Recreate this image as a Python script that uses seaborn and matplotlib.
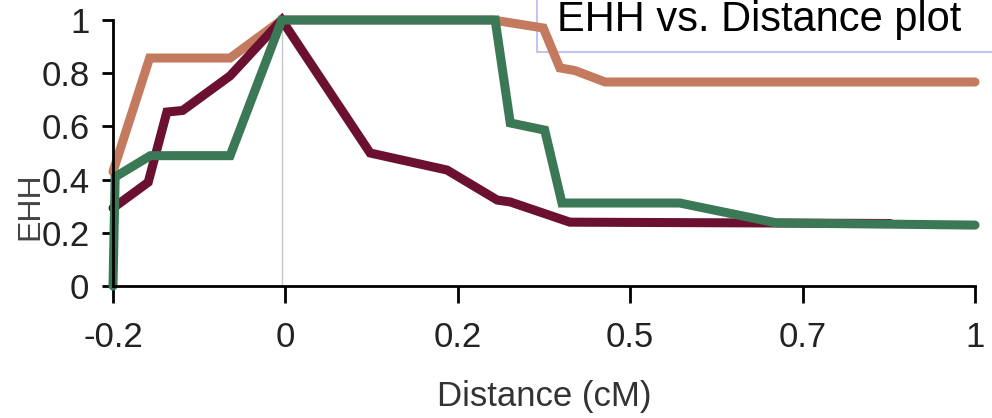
import numpy as np
import pandas as pd
import matplotlib
matplotlib.use('Agg')
import matplotlib.pyplot as plt
from matplotlib.patches import Rectangle
import seaborn as sns

# Valores (distância em cM, EHH)
dist_laranja = [-0.2, -0.149, -0.037, 0.035, 0.329, 0.399, 0.422, 0.443, 0.485, 1.0]
ehh_laranja = [0.43, 0.857, 0.857, 1.0, 1.0, 0.97, 0.82, 0.81, 0.767, 0.767]

dist_vinho = [-0.2, -0.151, -0.125, -0.103, -0.037, 0.035, 0.158, 0.265, 0.335, 0.353, 0.436, 0.882]
ehh_vinho = [0.293, 0.39, 0.654, 0.66, 0.79, 1.0, 0.5, 0.436, 0.323, 0.316, 0.24, 0.235]

dist_verde = [-0.2, -0.197, -0.148, -0.037, 0.035, 0.332, 0.353, 0.401, 0.425, 0.589, 0.724, 1.0]
ehh_verde = [0.0, 0.41, 0.49, 0.49, 1.0, 1.0, 0.613, 0.586, 0.312, 0.312, 0.237, 0.229]

posicao_core = 0.035
ticks_x = np.linspace(-0.2, 1.0, 6)
rotulos_x = ['-0.2', '0', '0.2', '0.5', '0.7', '1']
ticks_y = [0, 0.2, 0.4, 0.6, 0.8, 1]
rotulos_y = ['0', '0.2', '0.4', '0.6', '0.8', '1']

series = [
    (dist_laranja, ehh_laranja, '#c47a5e'),
    (dist_vinho, ehh_vinho, '#6b1030'),
    (dist_verde, ehh_verde, '#3b7856'),
]

sns.set_style('white')
plt.rcParams['font.family'] = ['Liberation Sans', 'DejaVu Sans']

fig = plt.figure(figsize=(9.92, 4.18), dpi=100)
ax = fig.add_axes([113 / 992, 1 - 286 / 418, 862 / 992, 266 / 418])
ax.set_facecolor('none')

ax.axvline(posicao_core, color='#c8c8c8', lw=1, zorder=1)

for dist, ehh, cor in series:
    df = pd.DataFrame({'dist': dist, 'ehh': ehh})
    sns.lineplot(ax=ax, x='dist', y='ehh', data=df, color=cor, lw=6.5, sort=False,
                 estimator=None, clip_on=False, solid_joinstyle='miter', zorder=3)

ax.set_xlim(-0.2, 1.0)
ax.set_ylim(0, 1)
ax.set_xticks(ticks_x)
ax.set_xticklabels(rotulos_x)
ax.set_yticks(ticks_y)
ax.set_yticklabels(rotulos_y)
ax.tick_params(axis='x', length=12, width=2, color='black', pad=13, labelsize=25, labelcolor='#222222')
ax.tick_params(axis='y', length=8, width=2, color='black', pad=9, labelsize=25, labelcolor='#222222')
ax.xaxis.set_ticks_position('bottom')
ax.yaxis.set_ticks_position('left')
for lado in ['top', 'right']:
    ax.spines[lado].set_visible(False)
for lado in ['left', 'bottom']:
    ax.spines[lado].set_linewidth(2)
    ax.spines[lado].set_color('black')
    ax.spines[lado].set_zorder(4)

ax.set_xlabel('Distance (cM)', fontsize=25, color='#333333', va='center')
ax.xaxis.set_label_coords(0.5, -0.415)
ax.set_ylabel('EHH', fontsize=23, color='#444444')
ax.yaxis.set_label_coords(-0.078, 0.3)

# Caixa do título (atrás das linhas, texto por cima)
fig.patches.append(Rectangle((537 / 992, 1 - 52 / 418), 0.5, 0.2, transform=fig.transFigure,
                             facecolor='white', edgecolor='#c4c4f2', lw=1.5, zorder=-1))
fig.text(557 / 992, 1 - 20 / 418, 'EHH vs. Distance plot', fontsize=30, color='black',
         va='center', ha='left', zorder=6)

fig.savefig('out.png', dpi=100)
